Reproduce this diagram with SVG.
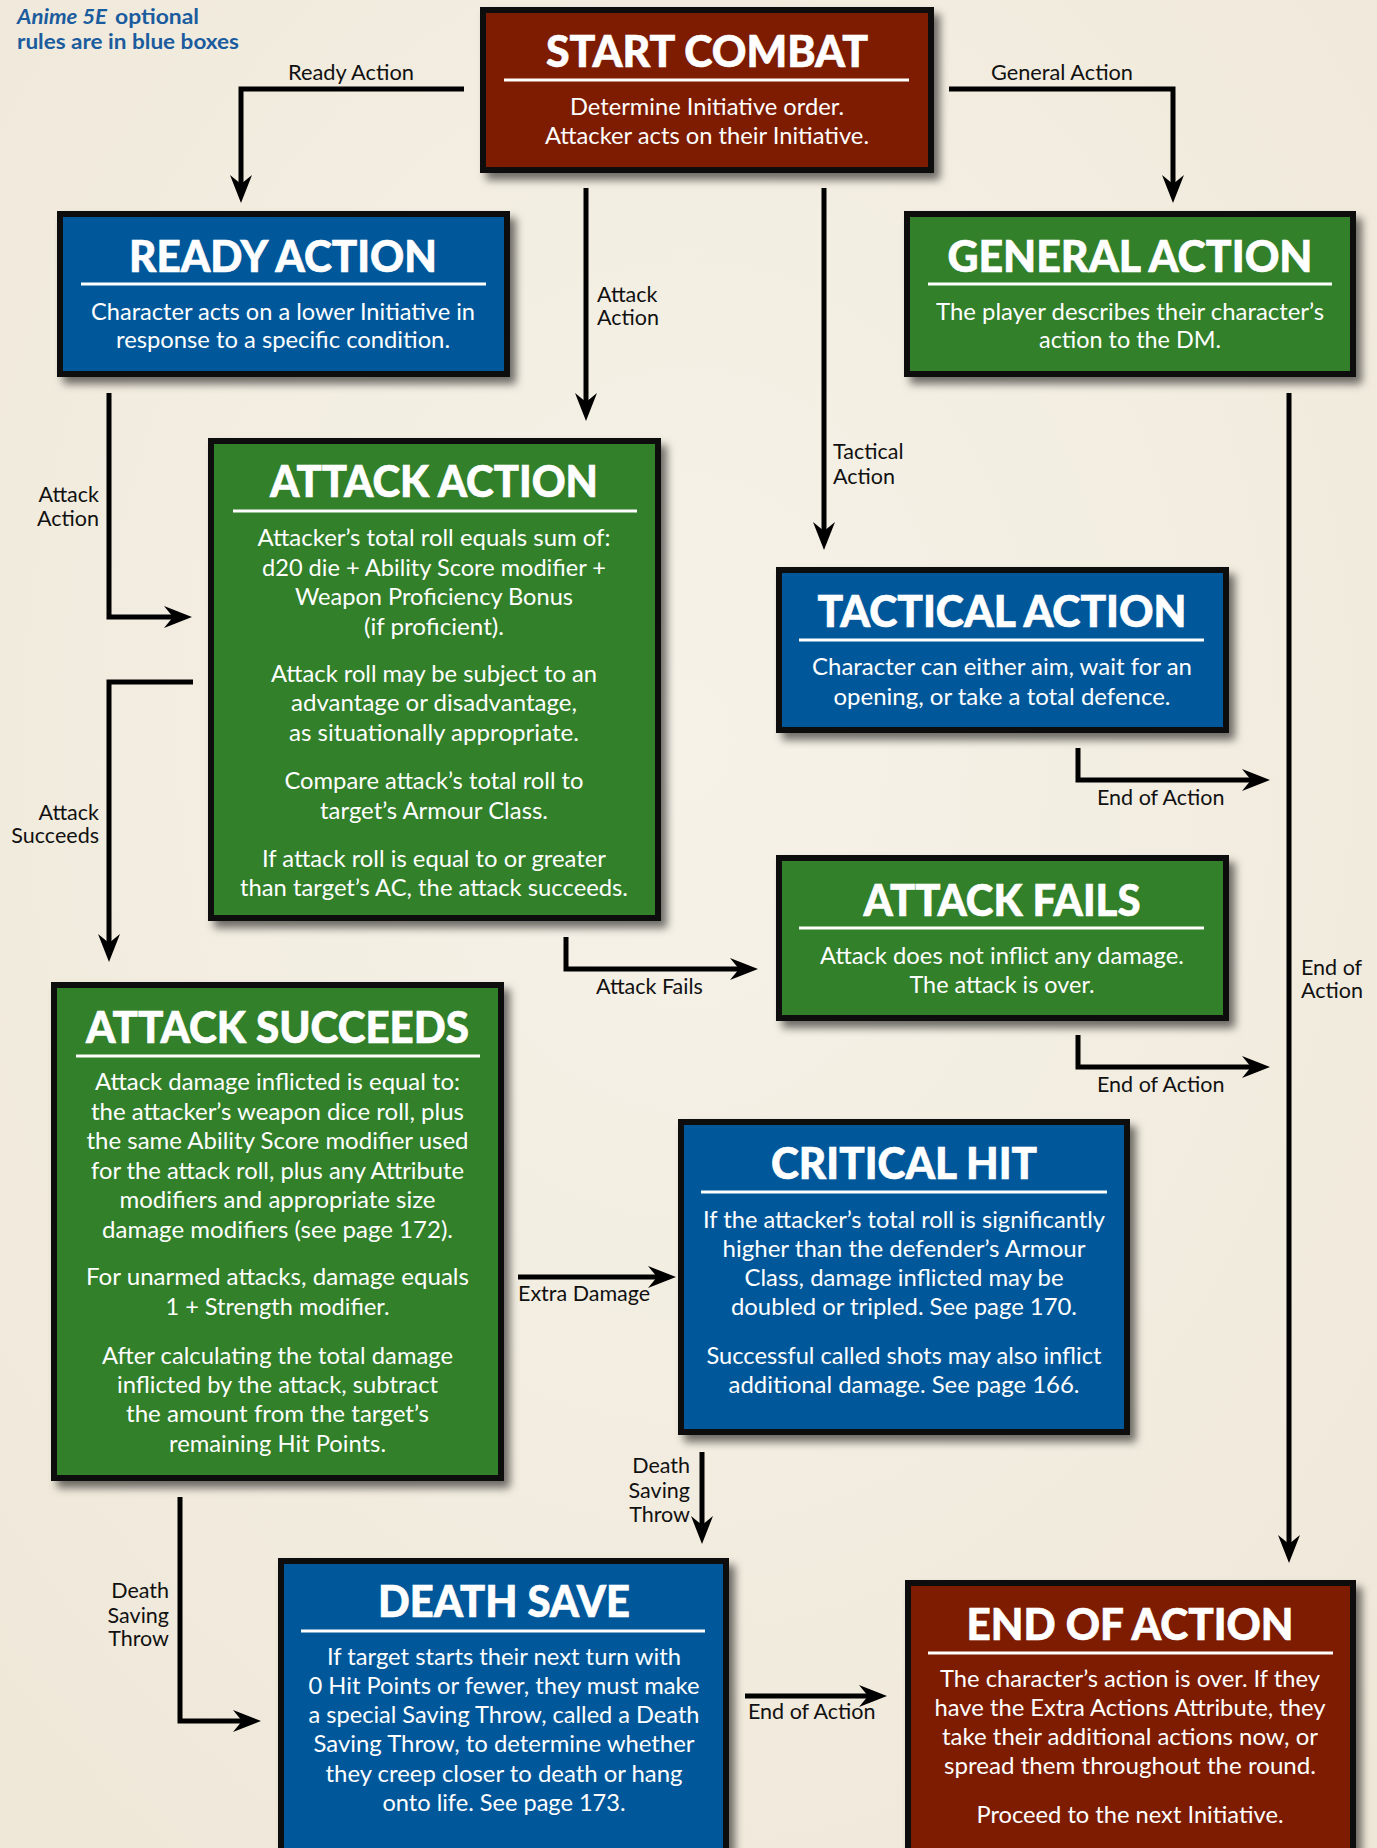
<svg xmlns="http://www.w3.org/2000/svg" width="1377" height="1848" viewBox="0 0 1377 1848">
<defs>
<style>
.box{stroke:#0a0a0a;stroke-width:6}
.red{fill:#7d1c04}
.blue{fill:#05599b}
.green{fill:#30802b}
.title{font-family:Lato,"Open Sans","Liberation Sans",sans-serif;font-weight:900;font-size:43px;fill:#fff;stroke:#fff;stroke-width:0.6;text-anchor:middle}
.body{font-family:Lato,"Open Sans","Liberation Sans",sans-serif;font-size:23px;fill:#fff;text-anchor:middle}
.rule{stroke:#fff;stroke-width:3}
.lbl{font-family:Lato,"Open Sans","Liberation Sans",sans-serif;font-size:21.5px;fill:#111}
.end{text-anchor:end}
.conn{fill:none;stroke:#000;stroke-width:5;stroke-linejoin:miter;marker-end:url(#arr)}
.note{font-family:Lato,"Open Sans","Liberation Sans",sans-serif;font-weight:700;font-size:20px;fill:#1b5c9e}
</style>
<marker id="arr" markerUnits="userSpaceOnUse" markerWidth="28" markerHeight="22" viewBox="0 0 28 22" refX="18" refY="11" orient="auto">
<path d="M0,0 L28,11 L0,22 L9,11 Z" fill="#000"/>
</marker>
<filter id="sh" x="-10%" y="-10%" width="125%" height="125%">
<feDropShadow dx="6" dy="7" stdDeviation="4" flood-color="#000" flood-opacity="0.55"/>
</filter>
<radialGradient id="paper" cx="50%" cy="40%" r="75%">
<stop offset="0" stop-color="#f6f2e8"/>
<stop offset="1" stop-color="#efe8d9"/>
</radialGradient>
</defs>
<rect x="0" y="0" width="1377" height="1848" fill="url(#paper)"/>

<g id="note">
<text class="note" x="17" y="24" font-style="italic" textLength="90" lengthAdjust="spacingAndGlyphs">Anime 5E</text>
<text class="note" x="115" y="24" textLength="84" lengthAdjust="spacingAndGlyphs">optional</text>
<text class="note" x="17" y="49" textLength="222" lengthAdjust="spacingAndGlyphs">rules are in blue boxes</text>
</g>

<g id="connectors">
<path class="conn" d="M464,89 H241 V193"/>
<path class="conn" d="M949,89 H1173 V193"/>
<path class="conn" d="M586,188 V411"/>
<path class="conn" d="M824,188 V540"/>
<path class="conn" d="M109,393 V617 H182"/>
<path class="conn" d="M193,682 H109 V952"/>
<path class="conn" d="M566,937 V969 H748"/>
<path class="conn" d="M1078,748 V780 H1260"/>
<path class="conn" d="M1078,1035 V1067 H1260"/>
<path class="conn" d="M1289,393 V1553"/>
<path class="conn" d="M518,1277 H666"/>
<path class="conn" d="M702,1452 V1534"/>
<path class="conn" d="M180,1497 V1721 H251"/>
<path class="conn" d="M745,1696 H877"/>
<text class="lbl" x="351" y="80" text-anchor="middle" textLength="126" lengthAdjust="spacingAndGlyphs">Ready Action</text>
<text class="lbl" x="1062" y="80" text-anchor="middle" textLength="142" lengthAdjust="spacingAndGlyphs">General Action</text>
<text class="lbl" x="597" y="302">Attack</text>
<text class="lbl" x="597" y="325">Action</text>
<text class="lbl" x="833" y="459">Tactical</text>
<text class="lbl" x="833" y="484">Action</text>
<text class="lbl end" x="99" y="502">Attack</text>
<text class="lbl end" x="99" y="526">Action</text>
<text class="lbl end" x="99" y="820">Attack</text>
<text class="lbl end" x="99" y="843">Succeeds</text>
<text class="lbl" x="596" y="994">Attack Fails</text>
<text class="lbl" x="1097" y="805">End of Action</text>
<text class="lbl" x="1097" y="1092">End of Action</text>
<text class="lbl" x="1301" y="975">End of</text>
<text class="lbl" x="1301" y="998">Action</text>
<text class="lbl" x="518" y="1301">Extra Damage</text>
<text class="lbl end" x="690" y="1473">Death</text>
<text class="lbl end" x="690" y="1498">Saving</text>
<text class="lbl end" x="690" y="1522">Throw</text>
<text class="lbl end" x="169" y="1598">Death</text>
<text class="lbl end" x="169" y="1623">Saving</text>
<text class="lbl end" x="169" y="1646">Throw</text>
<text class="lbl" x="748" y="1719">End of Action</text>
</g>

<g id="start-combat">
<rect class="box red" x="483" y="10" width="448" height="160" filter="url(#sh)"/>
<text class="title" x="707" y="67" textLength="322" lengthAdjust="spacingAndGlyphs">START COMBAT</text>
<line class="rule" x1="504" y1="80" x2="909" y2="80"/>
<text class="body" x="707" y="115" textLength="274" lengthAdjust="spacingAndGlyphs">Determine Initiative order.</text>
<text class="body" x="707" y="144" textLength="324" lengthAdjust="spacingAndGlyphs">Attacker acts on their Initiative.</text>
</g>

<g id="ready-action">
<rect class="box blue" x="60" y="214" width="447" height="160" filter="url(#sh)"/>
<text class="title" x="283" y="272" textLength="308" lengthAdjust="spacingAndGlyphs">READY ACTION</text>
<line class="rule" x1="81" y1="284" x2="486" y2="284"/>
<text class="body" x="283" y="320" textLength="384" lengthAdjust="spacingAndGlyphs">Character acts on a lower Initiative in</text>
<text class="body" x="283" y="348" textLength="334" lengthAdjust="spacingAndGlyphs">response to a specific condition.</text>
</g>

<g id="general-action">
<rect class="box green" x="907" y="214" width="446" height="160" filter="url(#sh)"/>
<text class="title" x="1130" y="272" textLength="365" lengthAdjust="spacingAndGlyphs">GENERAL ACTION</text>
<line class="rule" x1="928" y1="284" x2="1332" y2="284"/>
<text class="body" x="1130" y="320" textLength="388" lengthAdjust="spacingAndGlyphs">The player describes their character’s</text>
<text class="body" x="1130" y="348" textLength="182" lengthAdjust="spacingAndGlyphs">action to the DM.</text>
</g>

<g id="attack-action">
<rect class="box green" x="211" y="441" width="447" height="477" filter="url(#sh)"/>
<text class="title" x="434" y="497" textLength="328" lengthAdjust="spacingAndGlyphs">ATTACK ACTION</text>
<line class="rule" x1="233" y1="511" x2="637" y2="511"/>
<text class="body" x="434" y="546" textLength="353" lengthAdjust="spacingAndGlyphs">Attacker’s total roll equals sum of:</text>
<text class="body" x="434" y="576" textLength="344" lengthAdjust="spacingAndGlyphs">d20 die + Ability Score modifier +</text>
<text class="body" x="434" y="605" textLength="278" lengthAdjust="spacingAndGlyphs">Weapon Proficiency Bonus</text>
<text class="body" x="434" y="635" textLength="140" lengthAdjust="spacingAndGlyphs">(if proficient).</text>
<text class="body" x="434" y="682" textLength="326" lengthAdjust="spacingAndGlyphs">Attack roll may be subject to an</text>
<text class="body" x="434" y="711" textLength="286" lengthAdjust="spacingAndGlyphs">advantage or disadvantage,</text>
<text class="body" x="434" y="741" textLength="290" lengthAdjust="spacingAndGlyphs">as situationally appropriate.</text>
<text class="body" x="434" y="789" textLength="299" lengthAdjust="spacingAndGlyphs">Compare attack’s total roll to</text>
<text class="body" x="434" y="819" textLength="228" lengthAdjust="spacingAndGlyphs">target’s Armour Class.</text>
<text class="body" x="434" y="867" textLength="344" lengthAdjust="spacingAndGlyphs">If attack roll is equal to or greater</text>
<text class="body" x="434" y="896" textLength="388" lengthAdjust="spacingAndGlyphs">than target’s AC, the attack succeeds.</text>
</g>

<g id="tactical-action">
<rect class="box blue" x="779" y="570" width="447" height="160" filter="url(#sh)"/>
<text class="title" x="1002" y="627" textLength="369" lengthAdjust="spacingAndGlyphs">TACTICAL ACTION</text>
<line class="rule" x1="799" y1="640" x2="1204" y2="640"/>
<text class="body" x="1002" y="675" textLength="380" lengthAdjust="spacingAndGlyphs">Character can either aim, wait for an</text>
<text class="body" x="1002" y="705" textLength="337" lengthAdjust="spacingAndGlyphs">opening, or take a total defence.</text>
</g>

<g id="attack-fails">
<rect class="box green" x="779" y="858" width="447" height="160" filter="url(#sh)"/>
<text class="title" x="1002" y="916" textLength="277" lengthAdjust="spacingAndGlyphs">ATTACK FAILS</text>
<line class="rule" x1="799" y1="928" x2="1204" y2="928"/>
<text class="body" x="1002" y="964" textLength="364" lengthAdjust="spacingAndGlyphs">Attack does not inflict any damage.</text>
<text class="body" x="1002" y="993" textLength="185" lengthAdjust="spacingAndGlyphs">The attack is over.</text>
</g>

<g id="attack-succeeds">
<rect class="box green" x="54" y="985" width="447" height="493" filter="url(#sh)"/>
<text class="title" x="277.5" y="1043" textLength="383" lengthAdjust="spacingAndGlyphs">ATTACK SUCCEEDS</text>
<line class="rule" x1="76" y1="1056" x2="480" y2="1056"/>
<text class="body" x="277.5" y="1090" textLength="365" lengthAdjust="spacingAndGlyphs">Attack damage inflicted is equal to:</text>
<text class="body" x="277.5" y="1120" textLength="373" lengthAdjust="spacingAndGlyphs">the attacker’s weapon dice roll, plus</text>
<text class="body" x="277.5" y="1149" textLength="382" lengthAdjust="spacingAndGlyphs">the same Ability Score modifier used</text>
<text class="body" x="277.5" y="1179" textLength="373" lengthAdjust="spacingAndGlyphs">for the attack roll, plus any Attribute</text>
<text class="body" x="277.5" y="1208" textLength="316" lengthAdjust="spacingAndGlyphs">modifiers and appropriate size</text>
<text class="body" x="277.5" y="1238" textLength="351" lengthAdjust="spacingAndGlyphs">damage modifiers (see page 172).</text>
<text class="body" x="277.5" y="1285" textLength="383" lengthAdjust="spacingAndGlyphs">For unarmed attacks, damage equals</text>
<text class="body" x="277.5" y="1315" textLength="224" lengthAdjust="spacingAndGlyphs">1 + Strength modifier.</text>
<text class="body" x="277.5" y="1364" textLength="351" lengthAdjust="spacingAndGlyphs">After calculating the total damage</text>
<text class="body" x="277.5" y="1393" textLength="321" lengthAdjust="spacingAndGlyphs">inflicted by the attack, subtract</text>
<text class="body" x="277.5" y="1422" textLength="303" lengthAdjust="spacingAndGlyphs">the amount from the target’s</text>
<text class="body" x="277.5" y="1452" textLength="217" lengthAdjust="spacingAndGlyphs">remaining Hit Points.</text>
</g>

<g id="critical-hit">
<rect class="box blue" x="681" y="1122" width="446" height="310" filter="url(#sh)"/>
<text class="title" x="904" y="1179" textLength="266" lengthAdjust="spacingAndGlyphs">CRITICAL HIT</text>
<line class="rule" x1="701" y1="1192" x2="1107" y2="1192"/>
<text class="body" x="904" y="1228" textLength="402" lengthAdjust="spacingAndGlyphs">If the attacker’s total roll is significantly</text>
<text class="body" x="904" y="1257" textLength="363" lengthAdjust="spacingAndGlyphs">higher than the defender’s Armour</text>
<text class="body" x="904" y="1286" textLength="319" lengthAdjust="spacingAndGlyphs">Class, damage inflicted may be</text>
<text class="body" x="904" y="1315" textLength="346" lengthAdjust="spacingAndGlyphs">doubled or tripled. See page 170.</text>
<text class="body" x="904" y="1364" textLength="395" lengthAdjust="spacingAndGlyphs">Successful called shots may also inflict</text>
<text class="body" x="904" y="1393" textLength="351" lengthAdjust="spacingAndGlyphs">additional damage. See page 166.</text>
</g>

<g id="death-save">
<rect class="box blue" x="281" y="1561" width="445" height="310" filter="url(#sh)"/>
<text class="title" x="504" y="1617" textLength="252" lengthAdjust="spacingAndGlyphs">DEATH SAVE</text>
<line class="rule" x1="301" y1="1631" x2="705" y2="1631"/>
<text class="body" x="504" y="1665" textLength="354" lengthAdjust="spacingAndGlyphs">If target starts their next turn with</text>
<text class="body" x="504" y="1694" textLength="391" lengthAdjust="spacingAndGlyphs">0 Hit Points or fewer, they must make</text>
<text class="body" x="504" y="1723" textLength="391" lengthAdjust="spacingAndGlyphs">a special Saving Throw, called a Death</text>
<text class="body" x="504" y="1752" textLength="381" lengthAdjust="spacingAndGlyphs">Saving Throw, to determine whether</text>
<text class="body" x="504" y="1782" textLength="357" lengthAdjust="spacingAndGlyphs">they creep closer to death or hang</text>
<text class="body" x="504" y="1811" textLength="243" lengthAdjust="spacingAndGlyphs">onto life. See page 173.</text>
</g>

<g id="end-of-action">
<rect class="box red" x="908" y="1583" width="445" height="290" filter="url(#sh)"/>
<text class="title" x="1130" y="1640" textLength="327" lengthAdjust="spacingAndGlyphs">END OF ACTION</text>
<line class="rule" x1="928" y1="1653" x2="1333" y2="1653"/>
<text class="body" x="1130" y="1687" textLength="380" lengthAdjust="spacingAndGlyphs">The character’s action is over. If they</text>
<text class="body" x="1130" y="1716" textLength="391" lengthAdjust="spacingAndGlyphs">have the Extra Actions Attribute, they</text>
<text class="body" x="1130" y="1745" textLength="376" lengthAdjust="spacingAndGlyphs">take their additional actions now, or</text>
<text class="body" x="1130" y="1774" textLength="372" lengthAdjust="spacingAndGlyphs">spread them throughout the round.</text>
<text class="body" x="1130" y="1823" textLength="307" lengthAdjust="spacingAndGlyphs">Proceed to the next Initiative.</text>
</g>
</svg>
